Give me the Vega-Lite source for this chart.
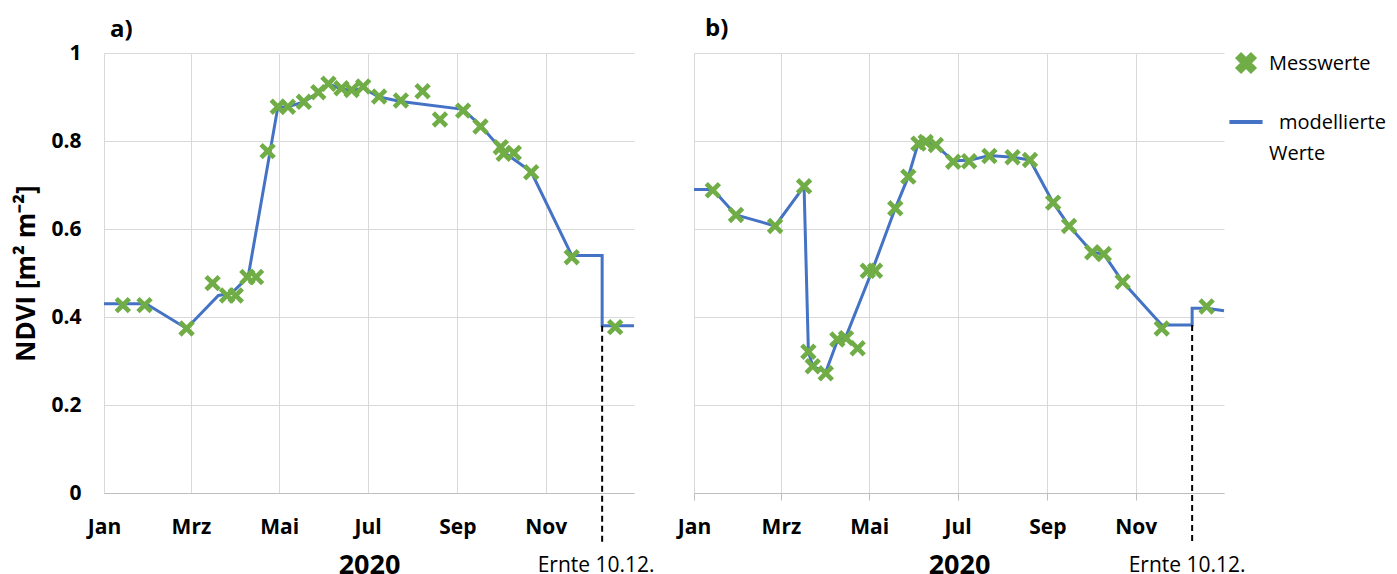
{
  "$schema": "https://vega.github.io/schema/vega-lite/v6.json",
  "background": "white",
  "padding": {"left": 13, "top": 17, "right": 5, "bottom": 2},
  "spacing": 22,
  "config": {
    "font": "Open Sans",
    "view": {"stroke": null},
    "axis": {"gridColor": "#d9d9d9", "gridWidth": 1, "domainColor": "#bfbfbf", "tickColor": "#bfbfbf", "labelColor": "black", "titleColor": "black"}
  },
  "datasets": {
    "mod_a": [
      {"i": 0, "d": "2020-01-01", "v": 0.43},
      {"i": 1, "d": "2020-01-30", "v": 0.43},
      {"i": 2, "d": "2020-02-27", "v": 0.374},
      {"i": 3, "d": "2020-03-20", "v": 0.449},
      {"i": 4, "d": "2020-03-29", "v": 0.454},
      {"i": 5, "d": "2020-04-07", "v": 0.483},
      {"i": 6, "d": "2020-04-10", "v": 0.5},
      {"i": 7, "d": "2020-04-30", "v": 0.876},
      {"i": 8, "d": "2020-05-07", "v": 0.878},
      {"i": 9, "d": "2020-05-18", "v": 0.889},
      {"i": 10, "d": "2020-05-28", "v": 0.91},
      {"i": 11, "d": "2020-06-04", "v": 0.93},
      {"i": 12, "d": "2020-06-13", "v": 0.918},
      {"i": 13, "d": "2020-06-20", "v": 0.915},
      {"i": 14, "d": "2020-06-28", "v": 0.92},
      {"i": 15, "d": "2020-07-09", "v": 0.9},
      {"i": 16, "d": "2020-07-24", "v": 0.89},
      {"i": 17, "d": "2020-09-05", "v": 0.872},
      {"i": 18, "d": "2020-09-17", "v": 0.835},
      {"i": 19, "d": "2020-10-03", "v": 0.775},
      {"i": 20, "d": "2020-10-22", "v": 0.73},
      {"i": 21, "d": "2020-11-19", "v": 0.54},
      {"i": 22, "d": "2020-12-10", "v": 0.54},
      {"i": 23, "d": "2020-12-10", "v": 0.38},
      {"i": 24, "d": "2021-01-01", "v": 0.38}
    ],
    "mes_a": [
      {"d": "2020-01-14", "v": 0.427},
      {"d": "2020-01-29", "v": 0.427},
      {"d": "2020-02-27", "v": 0.374},
      {"d": "2020-03-16", "v": 0.477},
      {"d": "2020-03-26", "v": 0.449},
      {"d": "2020-04-01", "v": 0.449},
      {"d": "2020-04-09", "v": 0.491},
      {"d": "2020-04-15", "v": 0.491},
      {"d": "2020-04-23", "v": 0.777},
      {"d": "2020-04-30", "v": 0.878},
      {"d": "2020-05-07", "v": 0.878},
      {"d": "2020-05-18", "v": 0.889},
      {"d": "2020-05-28", "v": 0.911},
      {"d": "2020-06-04", "v": 0.93},
      {"d": "2020-06-13", "v": 0.92},
      {"d": "2020-06-20", "v": 0.916},
      {"d": "2020-06-28", "v": 0.924},
      {"d": "2020-07-09", "v": 0.901},
      {"d": "2020-07-24", "v": 0.892},
      {"d": "2020-08-08", "v": 0.913},
      {"d": "2020-08-20", "v": 0.849},
      {"d": "2020-09-05", "v": 0.869},
      {"d": "2020-09-17", "v": 0.833},
      {"d": "2020-10-01", "v": 0.786},
      {"d": "2020-10-03", "v": 0.771},
      {"d": "2020-10-10", "v": 0.773},
      {"d": "2020-10-22", "v": 0.729},
      {"d": "2020-11-19", "v": 0.536},
      {"d": "2020-12-19", "v": 0.377}
    ],
    "mod_b": [
      {"i": 0, "d": "2020-01-01", "v": 0.69},
      {"i": 1, "d": "2020-01-14", "v": 0.69},
      {"i": 2, "d": "2020-01-30", "v": 0.632},
      {"i": 3, "d": "2020-02-26", "v": 0.607},
      {"i": 4, "d": "2020-03-17", "v": 0.697},
      {"i": 5, "d": "2020-03-20", "v": 0.321},
      {"i": 6, "d": "2020-03-23", "v": 0.288},
      {"i": 7, "d": "2020-04-01", "v": 0.275},
      {"i": 8, "d": "2020-04-09", "v": 0.346},
      {"i": 9, "d": "2020-04-15", "v": 0.356},
      {"i": 10, "d": "2020-05-03", "v": 0.505},
      {"i": 11, "d": "2020-05-19", "v": 0.647},
      {"i": 12, "d": "2020-05-28", "v": 0.719},
      {"i": 13, "d": "2020-06-04", "v": 0.797},
      {"i": 14, "d": "2020-06-09", "v": 0.798},
      {"i": 15, "d": "2020-06-16", "v": 0.79},
      {"i": 16, "d": "2020-06-28", "v": 0.755},
      {"i": 17, "d": "2020-07-09", "v": 0.756},
      {"i": 18, "d": "2020-07-23", "v": 0.767},
      {"i": 19, "d": "2020-08-08", "v": 0.763},
      {"i": 20, "d": "2020-08-20", "v": 0.757},
      {"i": 21, "d": "2020-09-05", "v": 0.66},
      {"i": 22, "d": "2020-09-16", "v": 0.607},
      {"i": 23, "d": "2020-10-02", "v": 0.547},
      {"i": 24, "d": "2020-10-10", "v": 0.543},
      {"i": 25, "d": "2020-10-23", "v": 0.48},
      {"i": 26, "d": "2020-11-19", "v": 0.382},
      {"i": 27, "d": "2020-12-10", "v": 0.382},
      {"i": 28, "d": "2020-12-10", "v": 0.42},
      {"i": 29, "d": "2020-12-20", "v": 0.42},
      {"i": 30, "d": "2021-01-01", "v": 0.414}
    ],
    "mes_b": [
      {"d": "2020-01-14", "v": 0.688},
      {"d": "2020-01-30", "v": 0.632},
      {"d": "2020-02-26", "v": 0.607},
      {"d": "2020-03-17", "v": 0.697},
      {"d": "2020-03-20", "v": 0.321},
      {"d": "2020-03-23", "v": 0.288},
      {"d": "2020-04-01", "v": 0.272},
      {"d": "2020-04-09", "v": 0.349},
      {"d": "2020-04-15", "v": 0.352},
      {"d": "2020-04-23", "v": 0.329},
      {"d": "2020-04-30", "v": 0.505},
      {"d": "2020-05-05", "v": 0.505},
      {"d": "2020-05-19", "v": 0.647},
      {"d": "2020-05-28", "v": 0.719},
      {"d": "2020-06-04", "v": 0.794},
      {"d": "2020-06-09", "v": 0.798},
      {"d": "2020-06-16", "v": 0.791},
      {"d": "2020-06-28", "v": 0.753},
      {"d": "2020-07-09", "v": 0.754},
      {"d": "2020-07-23", "v": 0.766},
      {"d": "2020-08-08", "v": 0.763},
      {"d": "2020-08-20", "v": 0.757},
      {"d": "2020-09-05", "v": 0.66},
      {"d": "2020-09-16", "v": 0.607},
      {"d": "2020-10-02", "v": 0.547},
      {"d": "2020-10-10", "v": 0.543},
      {"d": "2020-10-23", "v": 0.48},
      {"d": "2020-11-19", "v": 0.374},
      {"d": "2020-12-20", "v": 0.424}
    ],
    "ernte_a": [{"d": "2020-12-10", "top": 0.38, "bottom": -0.113, "ty": -0.165, "t": "Ernte 10.12."}],
    "ernte_b": [{"d": "2020-12-10", "top": 0.382, "bottom": -0.11, "ty": -0.165, "t": "Ernte 10.12."}]
  },
  "hconcat": [
    {
      "width": 530,
      "height": 440,
      "title": {"text": "a)", "anchor": "start", "frame": "group", "fontSize": 24, "fontWeight": "bold", "font": "Open Sans", "dx": 6, "offset": 0, "color": "black"},
      "layer": [
        {
          "data": {"name": "mod_a"},
          "mark": {"type": "line", "color": "#4472C4", "strokeWidth": 3},
          "encoding": {
            "x": {"field": "d", "type": "temporal",
              "scale": {"type": "utc", "domain": [{"year": 2020, "month": 1, "date": 1, "utc": true}, {"year": 2021, "month": 1, "date": 1, "utc": true}], "nice": false},
              "axis": {"title": "2020", "titleFontSize": 27, "titleFontWeight": "bold", "titlePadding": 15,
                "values": [{"year": 2020, "month": 1, "date": 1, "utc": true}, {"year": 2020, "month": 3, "date": 1, "utc": true}, {"year": 2020, "month": 5, "date": 1, "utc": true}, {"year": 2020, "month": 7, "date": 1, "utc": true}, {"year": 2020, "month": 9, "date": 1, "utc": true}, {"year": 2020, "month": 11, "date": 1, "utc": true}],
                "labelExpr": "['Jan','Feb','Mrz','Apr','Mai','Jun','Jul','Aug','Sep','Okt','Nov','Dez'][utcmonth(datum.value)]",
                "labelFontSize": 21, "labelFontWeight": "bold", "labelPadding": 23, "ticks": false, "grid": true, "labelFlush": false}},
            "y": {"field": "v", "type": "quantitative",
              "scale": {"domain": [0, 1], "nice": false, "zero": false},
              "axis": {"title": "NDVI [m² m⁻²]", "titleFontSize": 26, "titleFontWeight": "bold", "titlePadding": 11,
                "values": [0, 0.2, 0.4, 0.6, 0.8, 1], "labelExpr": "datum.value == 0 || datum.value == 1 ? format(datum.value, 'd') : format(datum.value, '.1f')",
                "labelFontSize": 21, "labelFontWeight": "bold", "labelPadding": 23, "ticks": false, "domain": false, "grid": true}},
            "order": {"field": "i", "type": "quantitative"}
          }
        },
        {
          "data": {"name": "mes_a"},
          "mark": {"type": "point", "filled": true, "opacity": 1, "color": "#70AD47", "size": 270,
            "shape": "M-1,-0.6L-0.6,-1L0,-0.4L0.6,-1L1,-0.6L0.4,0L1,0.6L0.6,1L0,0.4L-0.6,1L-1,0.6L-0.4,0Z"},
          "encoding": {
            "x": {"field": "d", "type": "temporal"},
            "y": {"field": "v", "type": "quantitative"}
          }
        },
        {
          "data": {"name": "ernte_a"},
          "mark": {"type": "rule", "color": "black", "strokeWidth": 2, "strokeDash": [6, 4], "clip": false},
          "encoding": {
            "x": {"field": "d", "type": "temporal"},
            "y": {"field": "top", "type": "quantitative"},
            "y2": {"field": "bottom"}
          }
        },
        {
          "data": {"name": "ernte_a"},
          "mark": {"type": "text", "fontSize": 21, "font": "Open Sans", "color": "black", "align": "center", "baseline": "middle", "dx": -6, "clip": false},
          "encoding": {
            "x": {"field": "d", "type": "temporal"},
            "y": {"field": "ty", "type": "quantitative"},
            "text": {"field": "t"}
          }
        }
      ]
    },
    {
      "width": 530,
      "height": 440,
      "title": {"text": "b)", "anchor": "start", "frame": "group", "fontSize": 24, "fontWeight": "bold", "font": "Open Sans", "dx": 11, "offset": 12, "color": "black"},
      "layer": [
        {
          "data": {"name": "mod_b"},
          "mark": {"type": "line", "strokeWidth": 3},
          "encoding": {
            "x": {"field": "d", "type": "temporal",
              "scale": {"type": "utc", "domain": [{"year": 2020, "month": 1, "date": 1, "utc": true}, {"year": 2021, "month": 1, "date": 1, "utc": true}], "nice": false},
              "axis": {"title": "2020", "titleFontSize": 27, "titleFontWeight": "bold", "titlePadding": 15,
                "values": [{"year": 2020, "month": 1, "date": 1, "utc": true}, {"year": 2020, "month": 3, "date": 1, "utc": true}, {"year": 2020, "month": 5, "date": 1, "utc": true}, {"year": 2020, "month": 7, "date": 1, "utc": true}, {"year": 2020, "month": 9, "date": 1, "utc": true}, {"year": 2020, "month": 11, "date": 1, "utc": true}],
                "labelExpr": "['Jan','Feb','Mrz','Apr','Mai','Jun','Jul','Aug','Sep','Okt','Nov','Dez'][utcmonth(datum.value)]",
                "labelFontSize": 21, "labelFontWeight": "bold", "labelPadding": 16, "ticks": true, "tickSize": 7, "grid": true, "labelFlush": false}},
            "y": {"field": "v", "type": "quantitative",
              "scale": {"domain": [0, 1], "nice": false, "zero": false},
              "axis": {"title": null, "values": [0, 0.2, 0.4, 0.6, 0.8, 1], "labels": false, "ticks": false, "domain": false, "grid": true, "minExtent": 0}},
            "order": {"field": "i", "type": "quantitative"},
            "color": {"datum": "modellierte Werte", "type": "nominal",
              "scale": {"domain": ["Messwerte", "modellierte Werte"], "range": ["#70AD47", "#4472C4"]},
              "legend": {"title": null, "orient": "none", "legendX": 1123, "legendY": -9, "padding": 0,
                "symbolSize": 1100, "labelFontSize": 20, "labelFont": "Open Sans", "labelColor": "black", "labelOffset": 4, "rowPadding": 23, "labelLimit": 300,
                "labelExpr": "datum.value == 'Messwerte' ? 'Messwerte' : ['\u200b\u2002modellierte', 'Werte']",
                "encode": {
                  "symbols": {"update": {
                    "shape": {"signal": "datum.value == 'Messwerte' ? 'M-1,-0.6L-0.6,-1L0,-0.4L0.6,-1L1,-0.6L0.4,0L1,0.6L0.6,1L0,0.4L-0.6,1L-1,0.6L-0.4,0Z' : 'stroke'"},
                    "size": {"signal": "datum.value == 'Messwerte' ? 270 : 1100"},
                    "fill": {"signal": "datum.value == 'Messwerte' ? '#70AD47' : 'transparent'"},
                    "stroke": {"signal": "datum.value == 'Messwerte' ? 'transparent' : '#4472C4'"},
                    "strokeWidth": {"value": 4},
                    "opacity": {"value": 1}
                  }},
                  "labels": {"update": {"baseline": {"value": "alphabetic"}, "dy": {"value": 7}, "lineHeight": {"value": 31}}}
                }}
            }
          }
        },
        {
          "data": {"name": "mes_b"},
          "mark": {"type": "point", "filled": true, "opacity": 1, "size": 270,
            "shape": "M-1,-0.6L-0.6,-1L0,-0.4L0.6,-1L1,-0.6L0.4,0L1,0.6L0.6,1L0,0.4L-0.6,1L-1,0.6L-0.4,0Z"},
          "encoding": {
            "x": {"field": "d", "type": "temporal"},
            "y": {"field": "v", "type": "quantitative"},
            "color": {"datum": "Messwerte", "type": "nominal"}
          }
        },
        {
          "data": {"name": "ernte_b"},
          "mark": {"type": "rule", "color": "black", "strokeWidth": 2, "strokeDash": [6, 4], "clip": false},
          "encoding": {
            "x": {"field": "d", "type": "temporal"},
            "y": {"field": "top", "type": "quantitative"},
            "y2": {"field": "bottom"}
          }
        },
        {
          "data": {"name": "ernte_b"},
          "mark": {"type": "text", "fontSize": 21, "font": "Open Sans", "color": "black", "align": "center", "baseline": "middle", "dx": -5, "clip": false},
          "encoding": {
            "x": {"field": "d", "type": "temporal"},
            "y": {"field": "ty", "type": "quantitative"},
            "text": {"field": "t"}
          }
        }
      ]
    }
  ]
}
